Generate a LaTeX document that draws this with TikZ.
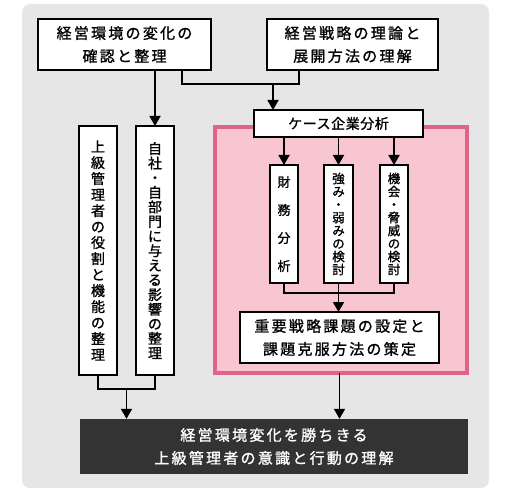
\documentclass[tikz,border=0pt]{standalone}
\usepackage{fontspec}
\setmainfont{Noto Sans CJK JP}[FakeBold=1.2]
\newfontfamily\jpwide{Noto Sans CJK JP}[LetterSpace=15, FakeBold=1.2]
\newfontfamily\jpcase{Noto Sans CJK JP}[LetterSpace=4, FakeBold=1.2]
\usetikzlibrary{arrows.meta}

\definecolor{bggray}{HTML}{E6E6E6}
\definecolor{pinkfill}{HTML}{F8C6D1}
\definecolor{pinkline}{HTML}{E0648A}
\definecolor{goaldark}{HTML}{333333}

\begin{document}
\begin{tikzpicture}[x=1pt, y=-1pt,
    box/.style={draw=black, line width=1.8pt, fill=white, inner sep=0pt, outer sep=0pt, align=center},
    wide/.style={font={\jpwide\fontsize{15}{23}\selectfont}},
    tate/.style={box, minimum width=38pt, minimum height=249pt, font={\fontsize{14}{16}\selectfont}},
    small/.style={box, minimum width=28pt, minimum height=118pt, font={\fontsize{12.5}{13}\selectfont}},
    line/.style={draw=black, line width=1.8pt},
    arr/.style={line, -{Triangle[width=11pt,length=10pt]}}]
  \useasboundingbox (0,0) rectangle (505,494);
  \fill[bggray, rounded corners=8pt] (22,4) rectangle (489,488);

  % pink frame
  \node[draw=pinkline, fill=pinkfill, line width=4pt, minimum width=252pt, minimum height=246pt, inner sep=0pt, outer sep=0pt] (pinkbox) at (341,250) {};

  % top row
  \node[box, wide, minimum width=173pt, minimum height=51pt] (env) at (124.5,44.5) {経営環境の変化の\\確認と整理};
  \node[box, wide, minimum width=171pt, minimum height=51pt] (strat) at (352.5,44.5) {経営戦略の理論と\\展開方法の理解};

  % left column
  \node[tate] (role) at (98,250.5) {上\\級\\管\\理\\者\\の\\役\\割\\と\\機\\能\\の\\整\\理};
  \node[tate, font={\fontsize{14}{14.6}\selectfont}] (impact) at (155,250.5) {自\\社\\・\\自\\部\\門\\に\\与\\え\\る\\影\\響\\の\\整\\理};

  % case study
  \node[box, minimum width=169pt, minimum height=27pt, font={\jpcase\fontsize{14}{16}\selectfont}] (case) at (338.5,123.5) {ケース企業分析};
  \node[small, font={\fontsize{13}{28}\selectfont}] (finance) at (284,224) {財\\務\\分\\析};
  \node[small, minimum width=29pt] (swot) at (338.5,224) {強\\み\\・\\弱\\み\\の\\検\\討};
  \node[small] (chance) at (394,224) {機\\会\\・\\脅\\威\\の\\検\\討};
  \node[box, wide, minimum width=199pt, minimum height=51pt] (issue) at (339.5,337.5) {重要戦略課題の設定と\\課題克服方法の策定};

  % goal
  \node[fill=goaldark, text=white, wide, align=center, inner sep=0pt, minimum width=388pt, minimum height=55pt] (goal) at (274,446.5) {経営環境変化を勝ちきる\\上級管理者の意識と行動の理解};

  % connectors
  \coordinate (top) at (273,84);
  \coordinate (mid) at (338.5,293);
  \coordinate (low) at (126.5,389);
  \draw[arr] (env.south -| impact.north) -- (impact.north);
  \draw[line] ([xshift=-29pt]env.south east) |- (top) -| ([xshift=32pt]strat.south west);
  \draw[arr] (top) -- (top |- case.north);
  \foreach \n in {finance,swot,chance}
    \draw[arr] (case.south -| \n.north) -- (\n.north);
  \draw[line] (finance.south) |- (mid) -| (chance.south);
  \draw[line] (swot.south) -- (mid);
  \draw[arr] (mid) -- (mid |- issue.north);
  \draw[line] (role.south) |- (low) -| (impact.south);
  \draw[arr] (low) -- (low |- goal.north);
  \draw[arr] (pinkbox.south -| issue.south) -- (issue.south |- goal.north);
\end{tikzpicture}
\end{document}
